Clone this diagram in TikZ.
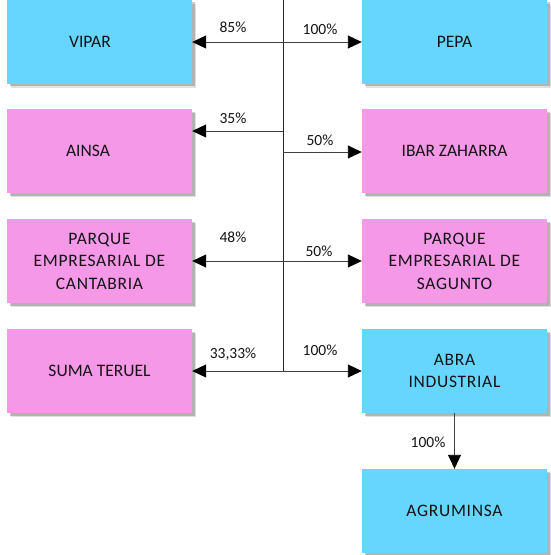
\documentclass[tikz,border=0pt]{standalone}
\usepackage{fontspec}
\setmainfont{Carlito}
\usetikzlibrary{arrows.meta,shadows}
\definecolor{boxblue}{RGB}{102,214,255}
\definecolor{boxpink}{RGB}{245,152,232}
\definecolor{inkc}{RGB}{20,20,20}
\tikzset{
  firm/.style={minimum width=185pt, minimum height=84pt, inner sep=0pt,
    font=\fontsize{17.5}{22.5}\selectfont, text=inkc, align=center,
    drop shadow={shadow xshift=4pt, shadow yshift=-4pt, opacity=0.12, fill=black},
    drop shadow={shadow xshift=2.5pt, shadow yshift=-2.5pt, opacity=0.2, fill=black}},
  bluefirm/.style={firm, fill=boxblue},
  pinkfirm/.style={firm, fill=boxpink},
  wide/.style={font=\fontsize{17.5}{22.5}\selectfont\addfontfeature{LetterSpace=4}},
  link/.style={draw=black!75, line width=0.9pt, -{Triangle[length=14pt,width=13pt,color=black]}},
  trunk/.style={draw=black!85, line width=0.9pt},
  pct/.style={font=\fontsize{15.5}{18}\selectfont, text=inkc, inner sep=0pt}
}
\begin{document}
\begin{tikzpicture}[x=1pt,y=-1pt]
\useasboundingbox[fill=white] (0,0) rectangle (550,555);
\node[bluefirm] (vipar) at (99.5,41.5) {VIPAR\hspace*{19pt}};
\node[bluefirm] (pepa) at (454.5,41.5) {PEPA};
\node[pinkfirm] (ainsa) at (99.5,151) {AINSA\hspace*{23pt}};
\node[pinkfirm] (ibar) at (454.5,151) {IBAR ZAHARRA};
\node[pinkfirm, wide] (cant) at (99.5,261) {PARQUE\\EMPRESARIAL DE\\CANTABRIA};
\node[pinkfirm, wide] (sag) at (454.5,261) {PARQUE\\EMPRESARIAL DE\\SAGUNTO};
\node[pinkfirm] (suma) at (99.5,371) {SUMA TERUEL};
\node[bluefirm, wide] (abra) at (454.5,371) {ABRA\\INDUSTRIAL};
\node[bluefirm, wide] (agr) at (454.5,511) {AGRUMINSA};

\coordinate (top) at (283,0);
\coordinate (bot) at (283,371);
\coordinate (j1) at (283,42);
\coordinate (jA) at (283,131);
\coordinate (jI) at (283,152);
\coordinate (j3) at (283,261);
\draw[trunk] (top) -- (bot);
\draw[link] (j1) -- (j1 -| vipar.east);
\draw[link] (j1) -- (j1 -| pepa.west);
\draw[link] (jA) -- (jA -| ainsa.east);
\draw[link] (jI) -- (jI -| ibar.west);
\draw[link] (j3) -- (j3 -| cant.east);
\draw[link] (j3) -- (j3 -| sag.west);
\draw[link] (bot) -- (bot -| suma.east);
\draw[link] (bot) -- (bot -| abra.west);
\draw[link] (abra.south) -- (agr.north);

\node[pct] (p1) at (233,27) {85\%};
\node[pct] (p2) at (320,29.5) {100\%};
\node[pct] (p3) at (233,118) {35\%};
\node[pct] (p4) at (320,140) {50\%};
\node[pct] (p5) at (233,237) {48\%};
\node[pct] (p6) at (319,251) {50\%};
\node[pct] (p7) at (233,354) {33,33\%};
\node[pct] (p8) at (320,350) {100\%};
\node[pct] (p9) at (428,442) {100\%};
\end{tikzpicture}
\end{document}
